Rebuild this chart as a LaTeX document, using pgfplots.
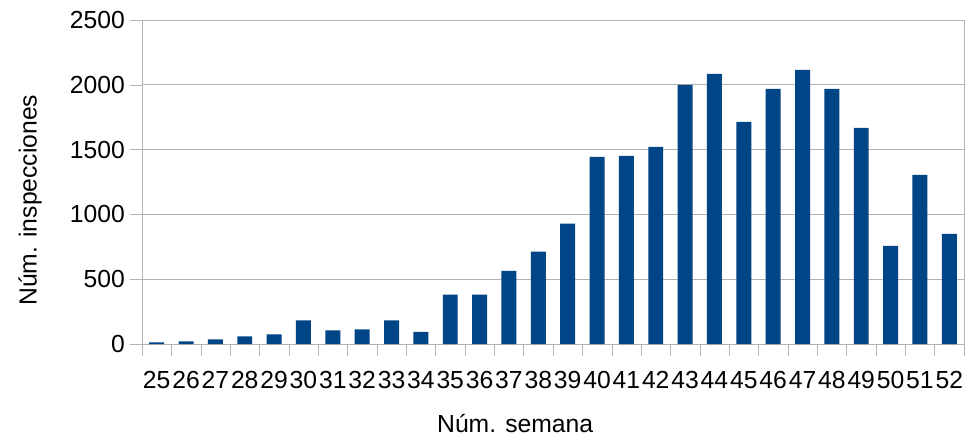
\documentclass[border=0pt]{standalone}
\usepackage{fontspec}
\setmainfont{Liberation Sans}
\usepackage{pgfplots}
\pgfplotsset{compat=1.18}
\definecolor{barblue}{HTML}{004586}
\definecolor{gridgray}{HTML}{B3B3B3}
\begin{document}
\begin{tikzpicture}
\useasboundingbox (-71pt,-45.5pt) rectangle (413.5pt,172pt);
\begin{axis}[
  scale only axis, width=411pt, height=162pt,
  ymin=0, ymax=2500, ytick={0,500,...,2500},
  minor ytick={0,500,...,2500},
  xmin=-0.5, xmax=27.5,
  xtick={0,...,27},
  xticklabels={25,26,27,28,29,30,31,32,33,34,35,36,37,38,39,40,41,42,43,44,45,46,47,48,49,50,51,52},
  minor xtick={-0.5,0.5,...,27.5},
  tick align=outside, major tick length=0pt, minor tick length=6pt,
  xtick pos=bottom, ytick pos=left,
  ymajorgrids, grid style={gridgray},
  axis line style={gridgray}, tick style={gridgray},
  ticklabel style={font=\fontsize{12.35}{14}\selectfont},
  xticklabel style={yshift=-10pt},
  yticklabel style={xshift=-5pt},
  label style={font=\fontsize{12.35}{14}\selectfont},
  /pgf/number format/assume math mode=true,
  /pgf/number format/1000 sep={},
  xlabel={Núm. semana}, ylabel={Núm. inspecciones},
  xlabel style={at={(axis description cs:0.454,-0.245)}, anchor=center},
  ylabel style={at={(axis description cs:-0.136,0.444)}, anchor=center},
]
\addplot[ybar, bar width=0.51, fill=barblue, draw=none] coordinates {
  (0,13) (1,21) (2,36) (3,59) (4,75) (5,183) (6,106) (7,113) (8,183) (9,93)
  (10,381) (11,381) (12,565) (13,712) (14,928) (15,1444) (16,1452) (17,1521)
  (18,2000) (19,2084) (20,1714) (21,1968) (22,2115) (23,1968) (24,1668)
  (25,758) (26,1305) (27,850)
};
\end{axis}
\end{tikzpicture}
\end{document}
